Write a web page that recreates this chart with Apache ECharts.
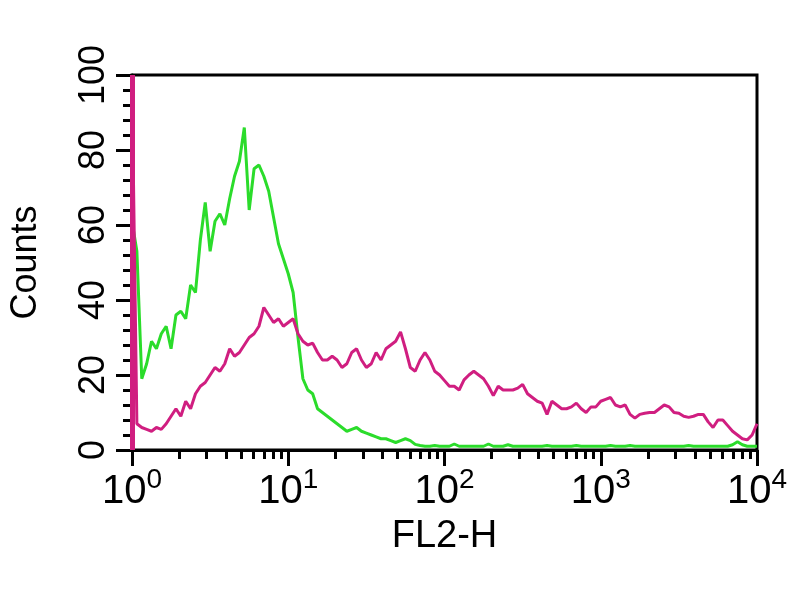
<!DOCTYPE html>
<html>
<head>
<meta charset="utf-8">
<script src="https://cdn.jsdelivr.net/npm/echarts@6/dist/echarts.min.js"></script>
<style>
  html, body { margin: 0; padding: 0; background: #fff; }
  #chart { width: 800px; height: 600px; }
</style>
</head>
<body>
<div id="chart"></div>
<script>
// decade labels on the FL2-H axis
const decadeTicks = [1, 10, 100, 1000, 10000];
const exponents = ['0', '1', '2', '3', '4'];
const countTicks = [0, 20, 40, 60, 80, 100];
const binsPerDecade = 32;

// counts per channel (32 channels per decade, 10^0 .. 10^4)
const magentaCounts = [
  100, 7, 6, 5.5, 5, 6, 5.5, 7, 9, 11,
  9, 13, 11, 15, 17, 18, 20, 22, 21, 23,
  27, 25, 26, 28, 30, 31, 33, 38, 36, 34,
  35, 33, 34, 35, 31, 29, 28, 28.5, 26, 24,
  24, 25, 24, 22, 23, 26, 27, 24, 22, 23,
  26, 24, 27, 28, 29, 31.5, 27, 22, 21, 24,
  26, 24, 21, 20, 18.5, 17, 17, 16, 18.7, 20,
  21, 20, 19, 17, 14.5, 17, 16, 16, 16, 16.5,
  17.5, 15, 14, 13, 12.5, 9.5, 13, 12, 11, 11,
  11.5, 12.5, 11, 10, 11.5, 11.5, 13, 13.5, 14, 12,
  11.5, 12, 9.5, 8.5, 9.5, 9.8, 10, 10, 11, 12,
  11.5, 10, 9.8, 9, 8.7, 9, 9.5, 9.5, 7.5, 6,
  8, 8, 6.5, 5, 4, 3, 2.7, 4, 7
];
const greenCounts = [
  61, 53, 19, 23, 29, 27, 31, 33, 27, 36,
  37, 35, 44, 42, 56, 66, 53, 61, 63, 60,
  67, 73, 77, 86, 64, 75, 76, 73, 69, 62,
  55, 51, 47, 42, 30, 19, 16, 15, 11, 10,
  9, 8, 7, 6, 5, 5.5, 6, 5, 4.5, 4,
  3.5, 3, 3, 2.5, 2, 2.5, 3, 2.5, 1.5, 1.2,
  1, 1, 1.2, 1, 1, 1, 1.6, 1, 1, 1,
  1, 1, 1, 1.6, 1, 1, 1, 1.4, 1, 1,
  1, 1, 1, 1, 1, 1.2, 1, 1, 1, 1,
  1, 1.2, 1, 1, 1, 1, 1, 1, 1.2, 1,
  1, 1, 1.2, 1, 1, 1, 1, 1, 1, 1,
  1, 1, 1, 1, 1.2, 1, 1, 1, 1, 1,
  1, 1, 1, 1.4, 2.2, 1.4, 1, 1, 1
];

function toPoints(counts) {
  return counts.map((c, i) => [Math.pow(10, i / binsPerDecade), c]);
}

// minor tick positions 2..9 inside each decade
const minorTicks = [];
for (let d = 0; d < decadeTicks.length - 1; d++) {
  for (let k = 2; k <= 9; k++) minorTicks.push(k * decadeTicks[d]);
}
// minor count ticks every 4
const minorCountTicks = [];
for (let c = 4; c < 100; c += 4) {
  if (c % 20 !== 0) minorCountTicks.push(c);
}

const font = 'Liberation Sans, Arial, Helvetica, sans-serif';
const tickStyle = { color: '#000', width: 3 };
const chart = echarts.init(document.getElementById('chart'));
chart.setOption({
  animation: false,
  grid: {
    left: 127, right: 43, top: 75, bottom: 150,
    show: true, borderColor: '#000', borderWidth: 3, backgroundColor: 'transparent'
  },
  xAxis: [
    {
      type: 'log', logBase: 10, min: 1, max: 10000,
      name: 'FL2-H', nameLocation: 'middle', nameGap: 68,
      nameTextStyle: { fontFamily: font, fontSize: 38, color: '#000' },
      axisLine: { lineStyle: { color: '#000', width: 3 } },
      axisTick: { show: true, length: 16, lineStyle: tickStyle, customValues: decadeTicks },
      axisLabel: {
        customValues: decadeTicks,
        margin: 16,
        formatter: v => '{b|10}{s|' + exponents[decadeTicks.indexOf(v)] + '}',
        rich: {
          b: { fontFamily: font, fontSize: 40, color: '#000', lineHeight: 44 },
          s: { fontFamily: font, fontSize: 28, color: '#000', padding: [0, 0, 24, 0] }
        }
      },
      splitLine: { show: false }
    },
    {
      type: 'log', logBase: 10, min: 1, max: 10000, position: 'bottom',
      axisLine: { show: false },
      axisTick: { show: true, length: 9, lineStyle: tickStyle, customValues: minorTicks },
      axisLabel: { show: false },
      splitLine: { show: false }
    }
  ],
  yAxis: [
    {
      type: 'value', min: 0, max: 100, interval: 20,
      name: 'Counts', nameLocation: 'middle', nameGap: 88, nameRotate: 90,
      nameTextStyle: { fontFamily: font, fontSize: 36, color: '#000' },
      axisLine: { show: true, lineStyle: { color: '#000', width: 3 } },
      axisTick: { show: true, length: 16, lineStyle: tickStyle, customValues: countTicks },
      axisLabel: {
        show: true, customValues: countTicks,
        rotate: 90, margin: 20, fontFamily: font, fontSize: 36, color: '#000'
      },
      splitLine: { show: false }
    },
    {
      type: 'value', min: 0, max: 100, position: 'left',
      axisLine: { show: false },
      axisTick: { show: true, length: 9, lineStyle: tickStyle, customValues: minorCountTicks },
      axisLabel: { show: false },
      splitLine: { show: false }
    }
  ],
  series: [
    {
      type: 'line', data: toPoints(greenCounts), showSymbol: false,
      lineStyle: { color: '#2bdc2b', width: 3 }, itemStyle: { color: '#2bdc2b' }
    },
    {
      type: 'line', data: toPoints(magentaCounts), showSymbol: false,
      lineStyle: { color: '#d01e80', width: 3 }, itemStyle: { color: '#d01e80' },
      // first channel pile-up, off scale
      markLine: {
        silent: true, symbol: 'none', label: { show: false },
        lineStyle: { color: '#d01e80', width: 5, type: 'solid' },
        data: [{ xAxis: decadeTicks[0] }]
      }
    }
  ]
});
</script>
</body>
</html>
